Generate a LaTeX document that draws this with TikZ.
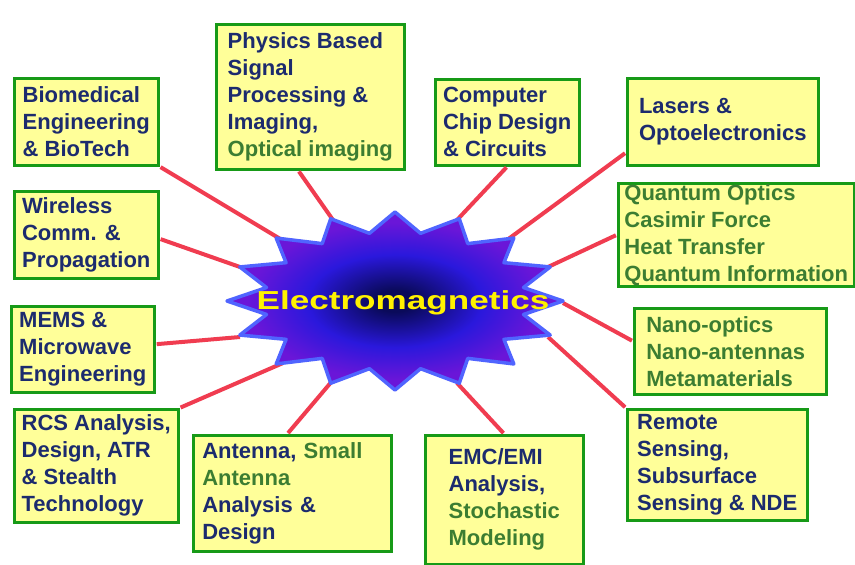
\documentclass[tikz,border=0pt]{standalone}
\usepackage{fontspec}
\setmainfont{Liberation Sans}

\definecolor{navytext}{HTML}{1C2B6E}
\definecolor{greentext}{HTML}{3C7D32}
\definecolor{boxgreen}{HTML}{179A17}
\definecolor{boxyellow}{HTML}{FFFF99}
\definecolor{linkred}{HTML}{F03C50}
\definecolor{starcore}{HTML}{0A0A5A}
\definecolor{starmid}{HTML}{2A18DC}
\definecolor{startip}{HTML}{6A16D8}
\definecolor{starrim}{HTML}{5064FF}
\pgfdeclareradialshading{starglow}{\pgfpoint{0bp}{0bp}}{color(0bp)=(starcore); color(3bp)=(starcore); color(13bp)=(starmid); color(22bp)=(startip); color(50bp)=(startip)}

\begin{document}
\begin{tikzpicture}[x=1pt, y=-1pt,
    topic/.style={draw=boxgreen, line width=2.5pt, fill=boxyellow, anchor=north west,
      align=left, inner xsep=3pt, inner ysep=0pt, text=navytext,
      font=\fontsize{22}{27}\selectfont\bfseries},
    link/.style={draw=linkred, line width=4pt, shorten <=1.2pt}]

    \useasboundingbox[fill=white] (0,0) rectangle (855,565);

    % topics round the star
    \node[topic, minimum width=144pt, minimum height=87pt] (bio) at (13,77) {Biomedical\\Engineering\\\& BioTech};
    \node[topic, minimum width=188pt, minimum height=145pt] (phys) at (215,23) {Physics Based\\Signal\\Processing \&\\Imaging,\\{\color{greentext}Optical imaging}};
    \node[topic, minimum width=144pt, minimum height=86pt] (chip) at (434,78) {Computer\\Chip Design\\\& Circuits};
    \node[topic, minimum width=191pt, minimum height=87pt] (laser) at (626,77) {Lasers \&\\Optoelectronics};
    \node[topic, minimum width=236pt, minimum height=103pt, text=greentext] (quant) at (617,182) {Quantum Optics\\Casimir Force\\Heat Transfer\\Quantum Information};
    \node[topic, minimum width=144pt, minimum height=87pt] (wire) at (13,190) {Wireless\\Comm. \&\\Propagation};
    \node[topic, minimum width=143pt, minimum height=86pt] (mems) at (10,305) {MEMS \&\\Microwave\\Engineering};
    \node[topic, minimum width=192pt, minimum height=86pt, text width=168pt, inner xsep=12pt, text=greentext] (nano) at (633,307) {Nano-optics\\Nano-antennas\\Metamaterials};
    \node[topic, minimum width=164pt, minimum height=113pt] (rcs) at (13,408) {RCS Analysis,\\Design, ATR\\\& Stealth\\Technology};
    \node[topic, minimum width=198pt, minimum height=116pt, text width=180pt, inner xsep=9pt] (ant) at (192,434) {Antenna, {\color{greentext}Small}\\{\color{greentext}Antenna}\\Analysis \&\\Design};
    \node[topic, minimum width=158pt, minimum height=129pt] (emc) at (424,434) {EMC/EMI\\Analysis,\\{\color{greentext}Stochastic}\\{\color{greentext}Modeling}};
    \node[topic, minimum width=180pt, minimum height=111pt] (remote) at (626,408) {Remote\\Sensing,\\Subsurface\\Sensing \& NDE};

    % where the links meet the star
    \coordinate (bio-in) at (282,240);
    \coordinate (phys-in) at (333,220);
    \coordinate (chip-in) at (457,220);
    \coordinate (laser-in) at (507,240);
    \coordinate (quant-in) at (548,267);
    \coordinate (wire-in) at (240,267);
    \coordinate (mems-in) at (240,337);
    \coordinate (nano-in) at (563,303);
    \coordinate (rcs-in) at (283,363);
    \coordinate (ant-in) at (333,380);
    \coordinate (emc-in) at (457,383);
    \coordinate (remote-in) at (548,337);

    \draw[link] (bio.south east) -- (bio-in);
    \draw[link] ([xshift=-12pt]phys.south) -- (phys-in);
    \draw[link] (chip.south) -- (chip-in);
    \draw[link] ([yshift=14pt]laser.south west) -- (laser-in);
    \draw[link] (quant.west) -- (quant-in);
    \draw[link] ([yshift=-4pt]wire.east) -- (wire-in);
    \draw[link] ([yshift=5pt]mems.east) -- (mems-in);
    \draw[link] ([yshift=10pt]nano.west) -- (nano-in);
    \draw[link] (rcs.north east) -- (rcs-in);
    \draw[link] ([xshift=-5pt]ant.north) -- (ant-in);
    \draw[link] (emc.north) -- (emc-in);
    \draw[link] (remote.north west) -- (remote-in);

    % the star
    \begin{scope}[shift={(395,301)}]
      \path[draw=starrim, line width=3.5pt, line join=round, shading=starglow]
        (0:168 and 89) \foreach \a in {0,22.5,...,315} { -- ({\a+11.25}:131 and 69) -- ({\a+22.5}:168 and 89) }
        -- (348.75:131 and 69) -- cycle;
    \end{scope}
    \node[font=\fontsize{26}{30}\selectfont\bfseries, text=yellow] (em) at (403,303) {\scalebox{1.35}[1]{Electromagnetics}};
\end{tikzpicture}
\end{document}
